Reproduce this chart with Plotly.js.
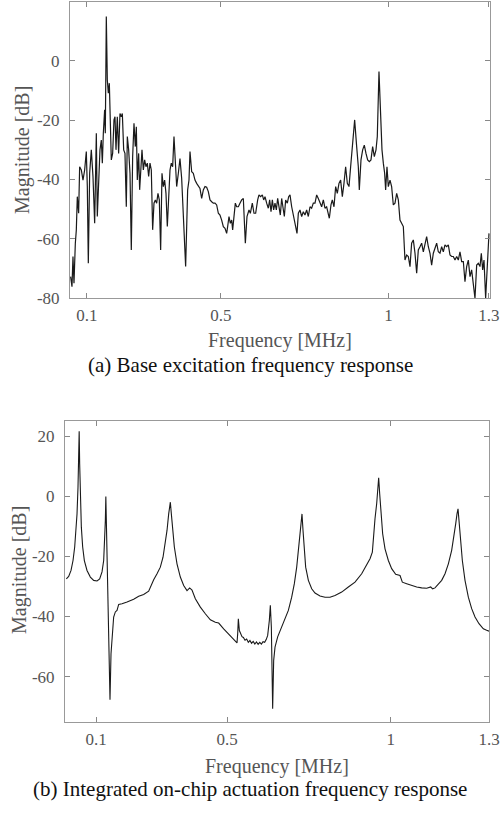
<!DOCTYPE html>
<html>
<head>
<meta charset="utf-8">
<script src="https://cdn.plot.ly/plotly-3.0.1.min.js"></script>
<style>
html,body{margin:0;padding:0;background:#fff;}
#chart{width:500px;height:814px;}
</style>
</head>
<body>
<div id="chart"></div>
<script>
// ---- (a) Base excitation frequency response ----
var baseFreq = [
0.0512,0.0552,0.0582,0.0612,0.0652,0.0682,0.0711,0.0751,0.0781,0.0831,
0.0881,0.0930,0.0980,0.1010,0.1040,0.1080,0.1129,0.1179,0.1229,0.1279,
0.1308,0.1348,0.1388,0.1428,0.1458,0.1488,0.1527,0.1547,0.1577,0.1607,
0.1637,0.1667,0.1697,0.1726,0.1766,0.1806,0.1836,0.1866,0.1905,0.1945,
0.1985,0.2025,0.2055,0.2095,0.2134,0.2174,0.2204,0.2244,0.2284,0.2323,
0.2363,0.2403,0.2443,0.2473,0.2502,0.2542,0.2572,0.2612,0.2642,0.2682,
0.2721,0.2761,0.2801,0.2841,0.2881,0.2920,0.2960,0.3000,0.3040,0.3080,
0.3119,0.3159,0.3199,0.3239,0.3279,0.3318,0.3358,0.3398,0.3438,0.3478,
0.3517,0.3557,0.3597,
0.3677,0.3727,0.3776,0.3826,0.3876,0.3945,0.4005,0.4045,0.4075,0.4125,
0.4174,0.4224,0.4274,0.4324,0.4373,0.4423,0.4473,0.4523,0.4572,0.4622,
0.4672,0.4722,0.4771,0.4821,0.4871,0.4921,0.4970,0.5020,0.5070,0.5120,
0.5169,0.5199,0.5239,0.5279,0.5319,0.5348,0.5388,0.5428,0.5468,0.5518,
0.5567,0.5617,0.5667,0.5727,0.5776,0.5836,0.5876,0.5935,0.5985,0.6035,
0.6095,0.6134,0.6184,0.6234,0.6274,0.6314,0.6363,0.6413,0.6453,0.6493,
0.6533,0.6572,0.6612,0.6652,0.6692,0.6731,0.6771,0.6811,0.6851,0.6891,
0.6930,0.6980,0.7020,0.7060,0.7110,0.7149,0.7189,0.7229,0.7269,0.7309,
0.7358,0.7408,0.7458,0.7507,0.7557,0.7607,0.7657,0.7706,0.7756,0.7806,
0.7856,0.7905,0.7955,0.8005,0.8055,0.8104,0.8154,0.8234,0.8283,0.8323,
0.8373,0.8423,0.8472,0.8522,0.8572,0.8622,0.8671,0.8721,0.8771,0.8821,
0.8870,0.8930,0.8990,0.9050,0.9099,0.9129,0.9179,0.9229,0.9278,0.9328,
0.9378,0.9428,0.9477,0.9527,0.9577,0.9627,0.9666,0.9716,0.9756,0.9806,
0.9846,0.9885,0.9915,0.9955,0.9995,1.0045,1.0094,1.0144,1.0194,1.0244,
1.0294,
1.0343,1.0443,1.0492,1.0542,1.0592,1.0642,1.0691,1.0741,1.0791,1.0841,
1.0890,1.0940,1.0990,1.1040,1.1089,1.1139,1.1189,1.1239,1.1288,1.1338,
1.1388,1.1438,1.1487,1.1537,1.1587,1.1637,1.1686,1.1736,1.1786,1.1836,
1.1885,1.1935,1.1985,1.2035,1.2084,1.2134,1.2184,1.2234,1.2283,1.2333,
1.2383,1.2433,1.2482,1.2532,1.2582,1.2632,1.2681,1.2731,1.2771,1.2811,
1.2851,1.2900,1.2940,1.2980,1.3000
];
var baseMag = [
-72.8,-76.2,-66.0,-75.0,-61.5,-57.0,-45.8,-51.4,-35.7,-36.8,
-40.2,-36.8,-30.6,-42.4,-68.3,-37.9,-30.0,-39.0,-54.8,-24.4,
-52.5,-42.4,-30.0,-26.7,-34.5,-24.4,-16.5,-24.4,15.0,-6.4,
-10.9,-7.5,-18.8,-33.4,-31.2,-19.9,-18.8,-30.0,-18.8,-31.2,
-17.7,-18.8,-17.7,-30.0,-31.2,-49.2,-25.5,-30.0,-37.9,-63.8,
-32.3,-21.0,-28.9,-22.2,-40.2,-31.2,-43.5,-32.3,-30.0,-36.8,
-33.4,-35.7,-34.5,-39.0,-34.5,-36.8,-57.0,-48.0,-46.9,-48.0,
-44.7,-46.9,-63.8,-37.9,-42.4,-40.2,-44.7,-55.9,-46.9,-36.8,
-34.5,-35.7,-25.5,
-42.4,-37.9,-32.9,-39.6,-51.4,-69.4,-43.5,-40.2,-30.6,-37.4,
-37.9,-40.2,-41.3,-42.4,-43.0,-46.4,-43.5,-42.4,-42.6,-44.1,
-46.9,-47.5,-48.0,-48.0,-48.6,-51.4,-52.0,-53.7,-55.9,-56.5,
-58.2,-55.9,-52.5,-54.8,-53.7,-57.0,-51.4,-48.0,-49.2,-49.2,
-48.0,-46.9,-46.4,-61.5,-52.5,-50.3,-51.4,-48.0,-51.4,-51.4,
-46.9,-45.2,-45.8,-45.2,-46.9,-45.8,-48.0,-49.7,-46.9,-50.9,
-46.9,-50.3,-48.0,-50.3,-46.4,-49.2,-52.0,-46.4,-49.2,-52.5,
-46.9,-48.0,-45.8,-45.2,-49.2,-51.4,-53.7,-54.8,-58.2,-51.4,
-50.3,-52.5,-50.9,-52.0,-50.3,-52.5,-49.2,-49.7,-48.0,-48.0,
-45.2,-46.4,-48.0,-49.2,-46.9,-49.7,-49.2,-53.1,-48.6,-46.9,
-49.2,-42.4,-44.7,-41.3,-40.2,-45.8,-41.3,-35.7,-41.3,-42.4,
-35.7,-26.7,-19.9,-28.9,-35.7,-43.5,-33.4,-30.0,-28.4,-31.2,
-33.4,-34.0,-33.4,-28.9,-32.3,-30.0,-25.5,-3.6,-18.8,-30.0,
-34.5,-37.9,-43.5,-35.7,-42.4,-40.2,-42.4,-48.6,-48.0,-44.7,
-46.9,
-53.7,-55.9,-67.2,-65.5,-66.0,-69.4,-61.5,-60.4,-64.9,-71.6,
-63.8,-62.7,-61.5,-64.4,-61.5,-59.3,-62.7,-64.9,-68.9,-64.9,
-63.2,-61.5,-64.4,-64.9,-62.7,-64.4,-62.1,-62.7,-62.1,-65.5,
-66.0,-66.0,-67.2,-66.0,-67.2,-64.4,-67.7,-67.7,-74.5,-69.4,
-67.2,-72.8,-70.5,-76.2,-80.1,-68.9,-68.3,-69.4,-64.9,-70.5,
-67.2,-80.1,-69.4,-60.4,-58.2
];

// ---- (b) Integrated on-chip actuation frequency response ----
var chipFreq = [
0.0094,0.0165,0.0237,0.0298,0.0349,0.0389,0.0420,0.0450,0.0471,0.0486,
0.0501,0.0522,0.0552,0.0593,0.0644,0.0725,0.0827,0.0929,0.1031,0.1112,
0.1183,0.1234,0.1265,0.1285,0.1300,0.1316,0.1336,0.1366,0.1397,0.1427,
0.1458,0.1499,0.1539,0.1590,0.1641,0.1692,0.1794,0.1947,0.2150,0.2303,
0.2455,0.2608,0.2679,0.2761,0.2863,0.2964,0.3046,0.3117,0.3168,0.3219,
0.3270,0.3300,0.3341,0.3392,0.3473,0.3575,0.3677,0.3779,0.3860,0.3931,
0.4033,0.4186,0.4338,0.4491,0.4644,0.4746,0.4898,0.5051,0.5204,0.5305,
0.5326,0.5346,0.5377,0.5458,0.5500,0.5550,0.5600,0.5650,0.5700,0.5750,
0.5800,0.5850,0.5900,0.5950,0.6000,0.6050,0.6100,0.6150,0.6200,0.6242,
0.6293,0.6323,0.6354,0.6374,0.6394,0.6425,
0.6466,0.6547,0.6588,0.6619,0.6690,0.6771,0.6873,0.6975,0.7056,0.7128,
0.7178,0.7229,0.7260,0.7290,0.7321,0.7362,0.7402,0.7484,0.7586,0.7687,
0.7840,0.7993,0.8145,0.8298,0.8502,0.8705,0.8909,0.9112,0.9265,0.9367,
0.9438,0.9469,0.9489,0.9519,0.9570,0.9611,0.9631,0.9662,0.9703,0.9753,
0.9825,0.9927,1.0028,1.0150,1.0283,1.0313,1.0354,1.0486,1.0639,1.0792,
1.0944,1.1097,1.1219,1.1280,1.1351,1.1453,1.1555,1.1657,1.1759,1.1860,
1.1932,1.1983,1.2023,1.2054,1.2084,1.2125,1.2186,1.2267,1.2369,1.2471,
1.2573,1.2695,1.2827,1.2929,1.3000
];
var chipMag = [
-27.5,-26.7,-24.7,-21.4,-16.9,-11.4,-5.9,3.0,11.8,21.6,
10.7,-0.3,-10.3,-16.9,-21.4,-24.7,-26.9,-28.0,-28.2,-27.5,
-25.2,-21.4,-14.7,-8.1,-0.1,-8.1,-21.4,-34.6,-46.8,-67.7,
-52.4,-44.6,-40.2,-38.5,-38.0,-36.0,-35.8,-35.2,-34.3,-33.3,
-32.7,-31.6,-29.7,-27.8,-25.8,-23.6,-20.3,-15.8,-11.4,-5.9,
-2.0,-5.9,-11.4,-16.9,-22.5,-26.9,-29.7,-31.4,-30.5,-31.2,
-34.1,-36.9,-39.1,-41.1,-41.9,-42.2,-44.1,-45.8,-47.4,-48.8,
-45.8,-40.8,-44.7,-46.7,-47.0,-47.9,-47.5,-48.6,-48.0,-48.9,
-48.3,-49.2,-48.5,-49.3,-48.6,-49.2,-48.4,-48.6,-47.6,-46.3,
-41.3,-36.3,-43.5,-54.6,-70.7,-54.6,
-50.2,-46.8,-45.7,-44.6,-43.0,-40.8,-38.0,-33.6,-29.1,-23.6,
-18.0,-12.5,-8.1,-5.9,-11.4,-19.2,-23.6,-28.0,-30.8,-32.2,
-33.2,-33.6,-33.6,-33.0,-31.9,-30.2,-28.6,-25.8,-23.0,-20.8,
-18.6,-13.6,-9.2,-7.5,-2.5,3.0,6.1,0.8,-7.0,-12.5,
-17.5,-21.4,-24.1,-26.0,-26.4,-27.5,-28.6,-29.1,-29.7,-30.2,
-30.5,-30.6,-30.2,-30.8,-30.5,-29.3,-28.0,-25.8,-22.5,-18.0,
-13.6,-9.2,-5.9,-4.2,-8.1,-14.7,-21.4,-28.0,-33.6,-37.4,
-40.2,-42.4,-44.1,-44.6,-44.9
];

var xTickVals = [0.1, 0.5, 1, 1.3];
var xTickText = ['0.1', '0.5', '1', '1.3'];
var baseYTicks = [-80, -60, -40, -20, 0];
var baseYText = ['-80', '-60', '-40', '-20', '0'];
var chipYTicks = [-60, -40, -20, 0, 20];
var chipYText = ['-60', '-40', '-20', '0', '20'];

var xTitle = 'Frequency [MHz]';
var yTitle = 'Magnitude [dB]';
var captionA = '(a) Base excitation frequency response';
var captionB = '(b) Integrated on-chip actuation frequency response';

var FONT = 'Liberation Serif, Times New Roman, serif';
var tickFont = {family: FONT, size: 17, color: '#555'};

function axisStyle(extra) {
  var a = {
    showline: true, linecolor: '#999', linewidth: 1, mirror: 'ticks',
    ticks: 'inside', ticklen: 5, tickcolor: '#888', tickwidth: 1,
    showgrid: false, zeroline: false, tickfont: tickFont,
    ticklabelstandoff: 6
  };
  for (var k in extra) a[k] = extra[k];
  return a;
}

var traces = [
  {x: baseFreq, y: baseMag, xaxis: 'x', yaxis: 'y', type: 'scatter', mode: 'lines',
   line: {color: '#1a1a1a', width: 1.2}, hoverinfo: 'x+y'},
  {x: chipFreq, y: chipMag, xaxis: 'x2', yaxis: 'y2', type: 'scatter', mode: 'lines',
   line: {color: '#1a1a1a', width: 1.1}, hoverinfo: 'x+y'}
];

var layout = {
  width: 500, height: 814,
  margin: {l: 0, r: 0, t: 0, b: 0},
  paper_bgcolor: '#fff', plot_bgcolor: '#fff',
  showlegend: false,
  xaxis: axisStyle({domain: [0.14, 0.98], range: [0.0493, 1.303], tickvals: xTickVals, ticktext: xTickText, anchor: 'y', ticklabelstandoff: 2}),
  yaxis: axisStyle({domain: [0.63391, 0.99754], range: [-80, 19.9], tickvals: baseYTicks, ticktext: baseYText, anchor: 'x'}),
  xaxis2: axisStyle({domain: [0.13, 0.978], range: [0.0053, 1.3], tickvals: xTickVals, ticktext: xTickText, anchor: 'y2', ticklabelstandoff: 2}),
  yaxis2: axisStyle({domain: [0.11302, 0.48280], range: [-75.1, 25.0], tickvals: chipYTicks, ticktext: chipYText, anchor: 'x2'}),
  annotations: [
    {text: yTitle, xref: 'paper', yref: 'paper', x: 0.044, y: 1 - 150/814, textangle: -90,
     showarrow: false, xanchor: 'center', yanchor: 'middle', font: {family: FONT, size: 20, color: '#555'}},
    {text: yTitle, xref: 'paper', yref: 'paper', x: 0.038, y: 1 - 570/814, textangle: -90,
     showarrow: false, xanchor: 'center', yanchor: 'middle', font: {family: FONT, size: 20, color: '#555'}},
    {text: xTitle, xref: 'paper', yref: 'paper', x: 0.56, y: 1 - 341/814,
     showarrow: false, xanchor: 'center', yanchor: 'middle', font: {family: FONT, size: 20, color: '#555'}},
    {text: xTitle, xref: 'paper', yref: 'paper', x: 0.554, y: 1 - 766/814,
     showarrow: false, xanchor: 'center', yanchor: 'middle', font: {family: FONT, size: 20, color: '#555'}},
    {text: captionA, xref: 'paper', yref: 'paper', x: 0.5, y: 1 - 365/814,
     showarrow: false, xanchor: 'center', yanchor: 'middle', font: {family: FONT, size: 21, color: '#111'}},
    {text: captionB, xref: 'paper', yref: 'paper', x: 0.5, y: 1 - 789/814,
     showarrow: false, xanchor: 'center', yanchor: 'middle', font: {family: FONT, size: 21, color: '#111'}}
  ]
};

Plotly.newPlot('chart', traces, layout, {displayModeBar: false, staticPlot: true});
</script>
</body>
</html>
